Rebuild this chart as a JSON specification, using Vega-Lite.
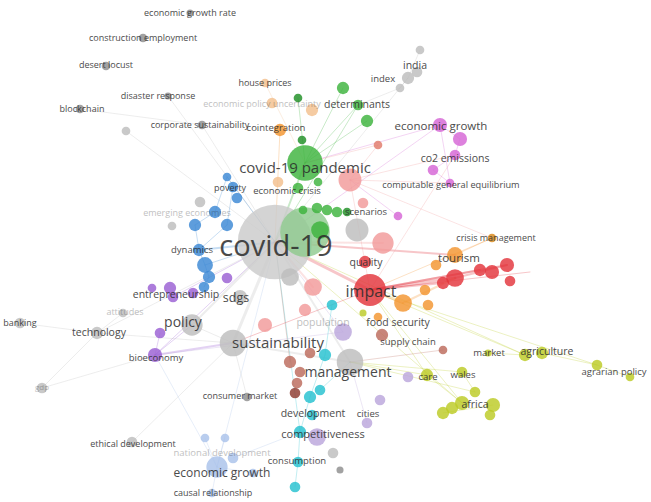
{
  "$schema": "https://vega.github.io/schema/vega-lite/v6.json",
  "width": 651,
  "height": 502,
  "padding": 0,
  "autosize": {"type": "none"},
  "background": "white",
  "config": {"view": {"stroke": null}},
  "datasets": {
    "links": [
      {"x": 275, "y": 242, "x2": 305, "y2": 163, "cl": "green", "w": 2},
      {"x": 275, "y": 242, "x2": 370, "y2": 290, "cl": "red", "w": 3},
      {"x": 275, "y": 242, "x2": 233, "y2": 343, "cl": "grey", "w": 3},
      {"x": 275, "y": 242, "x2": 350, "y2": 362, "cl": "grey", "w": 2},
      {"x": 275, "y": 242, "x2": 192, "y2": 325, "cl": "grey", "w": 2},
      {"x": 275, "y": 242, "x2": 202, "y2": 125, "cl": "grey", "w": 1},
      {"x": 275, "y": 242, "x2": 440, "y2": 125, "cl": "magenta", "w": 1},
      {"x": 275, "y": 242, "x2": 455, "y2": 255, "cl": "red", "w": 2},
      {"x": 275, "y": 242, "x2": 462, "y2": 403, "cl": "olive", "w": 1},
      {"x": 275, "y": 242, "x2": 300, "y2": 432, "cl": "cyan", "w": 1},
      {"x": 275, "y": 242, "x2": 217, "y2": 467, "cl": "lblue", "w": 1},
      {"x": 275, "y": 242, "x2": 168, "y2": 96, "cl": "grey", "w": 1},
      {"x": 275, "y": 242, "x2": 97, "y2": 333, "cl": "grey", "w": 1},
      {"x": 275, "y": 242, "x2": 155, "y2": 355, "cl": "purple", "w": 1},
      {"x": 275, "y": 242, "x2": 280, "y2": 130, "cl": "orange", "w": 1},
      {"x": 275, "y": 242, "x2": 525, "y2": 355, "cl": "olive", "w": 1},
      {"x": 275, "y": 242, "x2": 408, "y2": 78, "cl": "grey", "w": 1},
      {"x": 275, "y": 242, "x2": 358, "y2": 105, "cl": "green", "w": 1},
      {"x": 275, "y": 242, "x2": 126, "y2": 131, "cl": "grey", "w": 1},
      {"x": 275, "y": 242, "x2": 227, "y2": 177, "cl": "blue", "w": 1},
      {"x": 275, "y": 242, "x2": 199, "y2": 250, "cl": "blue", "w": 2},
      {"x": 275, "y": 242, "x2": 205, "y2": 265, "cl": "blue", "w": 1},
      {"x": 275, "y": 242, "x2": 173, "y2": 297, "cl": "purple", "w": 1},
      {"x": 275, "y": 242, "x2": 383, "y2": 243, "cl": "pink", "w": 2},
      {"x": 275, "y": 242, "x2": 313, "y2": 287, "cl": "pink", "w": 2},
      {"x": 275, "y": 242, "x2": 343, "y2": 332, "cl": "lpurple", "w": 1},
      {"x": 275, "y": 242, "x2": 290, "y2": 362, "cl": "brown", "w": 1},
      {"x": 370, "y": 290, "x2": 455, "y2": 278, "cl": "red", "w": 3},
      {"x": 370, "y": 290, "x2": 480, "y2": 270, "cl": "red", "w": 2},
      {"x": 370, "y": 290, "x2": 507, "y2": 265, "cl": "red", "w": 2},
      {"x": 370, "y": 290, "x2": 443, "y2": 283, "cl": "red", "w": 2},
      {"x": 370, "y": 290, "x2": 492, "y2": 238, "cl": "orange", "w": 1},
      {"x": 370, "y": 290, "x2": 525, "y2": 355, "cl": "olive", "w": 1},
      {"x": 370, "y": 290, "x2": 597, "y2": 365, "cl": "olive", "w": 1},
      {"x": 370, "y": 290, "x2": 462, "y2": 403, "cl": "olive", "w": 1},
      {"x": 370, "y": 290, "x2": 427, "y2": 375, "cl": "olive", "w": 1},
      {"x": 370, "y": 290, "x2": 403, "y2": 303, "cl": "orange", "w": 2},
      {"x": 370, "y": 290, "x2": 350, "y2": 180, "cl": "pink", "w": 1},
      {"x": 370, "y": 290, "x2": 455, "y2": 155, "cl": "pink", "w": 1},
      {"x": 370, "y": 290, "x2": 530, "y2": 272, "cl": "red", "w": 1},
      {"x": 370, "y": 290, "x2": 233, "y2": 343, "cl": "red", "w": 1},
      {"x": 305, "y": 163, "x2": 358, "y2": 105, "cl": "green", "w": 1},
      {"x": 305, "y": 163, "x2": 343, "y2": 88, "cl": "green", "w": 1},
      {"x": 305, "y": 163, "x2": 298, "y2": 98, "cl": "green", "w": 1},
      {"x": 305, "y": 163, "x2": 367, "y2": 121, "cl": "green", "w": 1},
      {"x": 305, "y": 163, "x2": 440, "y2": 125, "cl": "magenta", "w": 1},
      {"x": 305, "y": 163, "x2": 265, "y2": 83, "cl": "lorange", "w": 1},
      {"x": 305, "y": 163, "x2": 378, "y2": 145, "cl": "pink", "w": 1},
      {"x": 350, "y": 180, "x2": 378, "y2": 145, "cl": "pink", "w": 1},
      {"x": 350, "y": 180, "x2": 455, "y2": 155, "cl": "pink", "w": 1},
      {"x": 350, "y": 180, "x2": 450, "y2": 183, "cl": "pink", "w": 1},
      {"x": 350, "y": 180, "x2": 398, "y2": 216, "cl": "magenta", "w": 1},
      {"x": 350, "y": 180, "x2": 492, "y2": 238, "cl": "pink", "w": 1},
      {"x": 440, "y": 125, "x2": 460, "y2": 139, "cl": "magenta", "w": 1},
      {"x": 460, "y": 139, "x2": 455, "y2": 155, "cl": "magenta", "w": 1},
      {"x": 455, "y": 155, "x2": 433, "y2": 170, "cl": "magenta", "w": 1},
      {"x": 433, "y": 170, "x2": 450, "y2": 183, "cl": "magenta", "w": 1},
      {"x": 440, "y": 125, "x2": 450, "y2": 183, "cl": "magenta", "w": 1},
      {"x": 233, "y": 343, "x2": 155, "y2": 355, "cl": "purple", "w": 2},
      {"x": 233, "y": 343, "x2": 97, "y2": 333, "cl": "grey", "w": 1},
      {"x": 233, "y": 343, "x2": 247, "y2": 397, "cl": "grey", "w": 1},
      {"x": 233, "y": 343, "x2": 132, "y2": 442, "cl": "grey", "w": 1},
      {"x": 233, "y": 343, "x2": 350, "y2": 362, "cl": "grey", "w": 2},
      {"x": 233, "y": 343, "x2": 192, "y2": 325, "cl": "grey", "w": 1},
      {"x": 97, "y": 333, "x2": 20, "y2": 323, "cl": "grey", "w": 1},
      {"x": 97, "y": 333, "x2": 42, "y2": 388, "cl": "grey", "w": 1},
      {"x": 97, "y": 333, "x2": 123, "y2": 313, "cl": "grey", "w": 1},
      {"x": 42, "y": 388, "x2": 155, "y2": 355, "cl": "grey", "w": 1},
      {"x": 80, "y": 109, "x2": 202, "y2": 125, "cl": "grey", "w": 1},
      {"x": 155, "y": 355, "x2": 192, "y2": 325, "cl": "purple", "w": 1},
      {"x": 155, "y": 355, "x2": 160, "y2": 333, "cl": "purple", "w": 1},
      {"x": 155, "y": 355, "x2": 343, "y2": 332, "cl": "lpurple", "w": 1},
      {"x": 155, "y": 355, "x2": 217, "y2": 467, "cl": "lblue", "w": 1},
      {"x": 350, "y": 362, "x2": 427, "y2": 375, "cl": "olive", "w": 1},
      {"x": 350, "y": 362, "x2": 462, "y2": 372, "cl": "olive", "w": 1},
      {"x": 350, "y": 362, "x2": 443, "y2": 350, "cl": "brown", "w": 1},
      {"x": 350, "y": 362, "x2": 367, "y2": 423, "cl": "lpurple", "w": 1},
      {"x": 350, "y": 362, "x2": 320, "y2": 390, "cl": "cyan", "w": 1},
      {"x": 350, "y": 362, "x2": 475, "y2": 392, "cl": "olive", "w": 1},
      {"x": 332, "y": 305, "x2": 325, "y2": 355, "cl": "cyan", "w": 1},
      {"x": 325, "y": 355, "x2": 310, "y2": 397, "cl": "cyan", "w": 1},
      {"x": 310, "y": 397, "x2": 300, "y2": 432, "cl": "cyan", "w": 1},
      {"x": 300, "y": 432, "x2": 298, "y2": 462, "cl": "cyan", "w": 1},
      {"x": 298, "y": 462, "x2": 295, "y2": 487, "cl": "cyan", "w": 1},
      {"x": 455, "y": 255, "x2": 492, "y2": 238, "cl": "orange", "w": 1},
      {"x": 455, "y": 278, "x2": 507, "y2": 265, "cl": "red", "w": 2},
      {"x": 403, "y": 303, "x2": 455, "y2": 278, "cl": "orange", "w": 2},
      {"x": 488, "y": 353, "x2": 525, "y2": 355, "cl": "olive", "w": 1},
      {"x": 542, "y": 353, "x2": 597, "y2": 365, "cl": "olive", "w": 1},
      {"x": 597, "y": 365, "x2": 630, "y2": 377, "cl": "olive", "w": 1},
      {"x": 427, "y": 375, "x2": 462, "y2": 403, "cl": "olive", "w": 1},
      {"x": 462, "y": 372, "x2": 475, "y2": 392, "cl": "olive", "w": 1},
      {"x": 443, "y": 413, "x2": 493, "y2": 405, "cl": "olive", "w": 1},
      {"x": 227, "y": 177, "x2": 215, "y2": 212, "cl": "blue", "w": 1},
      {"x": 233, "y": 187, "x2": 227, "y2": 225, "cl": "blue", "w": 1},
      {"x": 215, "y": 212, "x2": 195, "y2": 225, "cl": "blue", "w": 1},
      {"x": 195, "y": 225, "x2": 199, "y2": 250, "cl": "blue", "w": 1},
      {"x": 199, "y": 250, "x2": 205, "y2": 265, "cl": "blue", "w": 1},
      {"x": 205, "y": 265, "x2": 209, "y2": 277, "cl": "blue", "w": 1},
      {"x": 209, "y": 277, "x2": 204, "y2": 287, "cl": "blue", "w": 1},
      {"x": 227, "y": 225, "x2": 199, "y2": 250, "cl": "blue", "w": 1},
      {"x": 420, "y": 50, "x2": 408, "y2": 78, "cl": "grey", "w": 1},
      {"x": 408, "y": 78, "x2": 400, "y2": 88, "cl": "grey", "w": 1},
      {"x": 400, "y": 88, "x2": 358, "y2": 105, "cl": "grey", "w": 1},
      {"x": 205, "y": 438, "x2": 217, "y2": 467, "cl": "lblue", "w": 1},
      {"x": 225, "y": 438, "x2": 217, "y2": 467, "cl": "lblue", "w": 1},
      {"x": 217, "y": 467, "x2": 212, "y2": 493, "cl": "lblue", "w": 1},
      {"x": 217, "y": 467, "x2": 253, "y2": 473, "cl": "lblue", "w": 1},
      {"x": 233, "y": 458, "x2": 300, "y2": 432, "cl": "lblue", "w": 1}
    ],
    "nodes": [
      {"x": 275, "y": 242, "occ": 441, "cl": "lgrey"},
      {"x": 305, "y": 232, "occ": 196, "cl": "lgreen"},
      {"x": 305, "y": 163, "occ": 100, "cl": "green"},
      {"x": 370, "y": 290, "occ": 81, "cl": "red"},
      {"x": 233, "y": 343, "occ": 56, "cl": "grey"},
      {"x": 350, "y": 362, "occ": 56, "cl": "grey"},
      {"x": 357, "y": 230, "occ": 42, "cl": "grey"},
      {"x": 350, "y": 180, "occ": 42, "cl": "pink"},
      {"x": 383, "y": 243, "occ": 36, "cl": "pink"},
      {"x": 192, "y": 325, "occ": 36, "cl": "grey"},
      {"x": 217, "y": 467, "occ": 36, "cl": "lblue"},
      {"x": 290, "y": 277, "occ": 25, "cl": "grey"},
      {"x": 313, "y": 287, "occ": 25, "cl": "pink"},
      {"x": 320, "y": 230, "occ": 25, "cl": "green"},
      {"x": 343, "y": 332, "occ": 25, "cl": "lpurple"},
      {"x": 317, "y": 437, "occ": 25, "cl": "lpurple"},
      {"x": 403, "y": 303, "occ": 25, "cl": "orange"},
      {"x": 455, "y": 278, "occ": 25, "cl": "red"},
      {"x": 240, "y": 297, "occ": 16, "cl": "grey"},
      {"x": 305, "y": 310, "occ": 12, "cl": "pink"},
      {"x": 265, "y": 325, "occ": 16, "cl": "pink"},
      {"x": 190, "y": 13, "occ": 4, "cl": "dgrey"},
      {"x": 143, "y": 38, "occ": 6, "cl": "dgrey"},
      {"x": 106, "y": 66, "occ": 6, "cl": "dgrey"},
      {"x": 168, "y": 96, "occ": 4, "cl": "dgrey"},
      {"x": 80, "y": 109, "occ": 6, "cl": "dgrey"},
      {"x": 126, "y": 131, "occ": 6, "cl": "grey"},
      {"x": 202, "y": 125, "occ": 6, "cl": "dgrey"},
      {"x": 265, "y": 83, "occ": 6, "cl": "lorange"},
      {"x": 272, "y": 103, "occ": 9, "cl": "lorange"},
      {"x": 312, "y": 110, "occ": 12, "cl": "lorange"},
      {"x": 280, "y": 130, "occ": 12, "cl": "orange"},
      {"x": 278, "y": 182, "occ": 9, "cl": "lorange"},
      {"x": 298, "y": 98, "occ": 6, "cl": "dgreen"},
      {"x": 343, "y": 88, "occ": 12, "cl": "green"},
      {"x": 358, "y": 105, "occ": 9, "cl": "green"},
      {"x": 367, "y": 121, "occ": 12, "cl": "green"},
      {"x": 302, "y": 140, "occ": 6, "cl": "dgreen"},
      {"x": 298, "y": 188, "occ": 9, "cl": "green"},
      {"x": 318, "y": 182, "occ": 6, "cl": "green"},
      {"x": 303, "y": 210, "occ": 6, "cl": "green"},
      {"x": 317, "y": 208, "occ": 9, "cl": "green"},
      {"x": 327, "y": 210, "occ": 9, "cl": "green"},
      {"x": 337, "y": 212, "occ": 9, "cl": "green"},
      {"x": 347, "y": 212, "occ": 6, "cl": "dgreen"},
      {"x": 363, "y": 203, "occ": 9, "cl": "pink"},
      {"x": 378, "y": 145, "occ": 6, "cl": "salmon"},
      {"x": 420, "y": 50, "occ": 6, "cl": "grey"},
      {"x": 417, "y": 72, "occ": 9, "cl": "grey"},
      {"x": 408, "y": 78, "occ": 12, "cl": "grey"},
      {"x": 400, "y": 88, "occ": 6, "cl": "grey"},
      {"x": 200, "y": 202, "occ": 9, "cl": "grey"},
      {"x": 172, "y": 226, "occ": 6, "cl": "grey"},
      {"x": 123, "y": 313, "occ": 6, "cl": "grey"},
      {"x": 20, "y": 323, "occ": 9, "cl": "grey"},
      {"x": 97, "y": 333, "occ": 12, "cl": "grey"},
      {"x": 42, "y": 388, "occ": 9, "cl": "grey"},
      {"x": 247, "y": 397, "occ": 6, "cl": "dgrey"},
      {"x": 132, "y": 442, "occ": 9, "cl": "grey"},
      {"x": 333, "y": 453, "occ": 9, "cl": "grey"},
      {"x": 340, "y": 470, "occ": 4, "cl": "dgrey"},
      {"x": 365, "y": 262, "occ": 12, "cl": "red"},
      {"x": 480, "y": 270, "occ": 12, "cl": "red"},
      {"x": 492, "y": 272, "occ": 16, "cl": "red"},
      {"x": 507, "y": 265, "occ": 16, "cl": "red"},
      {"x": 510, "y": 281, "occ": 9, "cl": "red"},
      {"x": 443, "y": 283, "occ": 12, "cl": "red"},
      {"x": 455, "y": 255, "occ": 20, "cl": "orange"},
      {"x": 492, "y": 238, "occ": 6, "cl": "dorange"},
      {"x": 436, "y": 265, "occ": 9, "cl": "orange"},
      {"x": 425, "y": 290, "occ": 9, "cl": "orange"},
      {"x": 428, "y": 305, "occ": 9, "cl": "orange"},
      {"x": 378, "y": 317, "occ": 6, "cl": "orange"},
      {"x": 440, "y": 125, "occ": 16, "cl": "magenta"},
      {"x": 460, "y": 139, "occ": 16, "cl": "magenta"},
      {"x": 455, "y": 155, "occ": 9, "cl": "magenta"},
      {"x": 433, "y": 170, "occ": 9, "cl": "magenta"},
      {"x": 450, "y": 183, "occ": 6, "cl": "magenta"},
      {"x": 398, "y": 216, "occ": 6, "cl": "magenta"},
      {"x": 227, "y": 177, "occ": 6, "cl": "blue"},
      {"x": 233, "y": 187, "occ": 9, "cl": "blue"},
      {"x": 237, "y": 198, "occ": 9, "cl": "blue"},
      {"x": 215, "y": 212, "occ": 12, "cl": "blue"},
      {"x": 195, "y": 225, "occ": 12, "cl": "blue"},
      {"x": 227, "y": 225, "occ": 12, "cl": "blue"},
      {"x": 199, "y": 250, "occ": 12, "cl": "blue"},
      {"x": 205, "y": 265, "occ": 20, "cl": "blue"},
      {"x": 209, "y": 277, "occ": 12, "cl": "blue"},
      {"x": 204, "y": 287, "occ": 9, "cl": "blue"},
      {"x": 227, "y": 278, "occ": 9, "cl": "purple"},
      {"x": 152, "y": 288, "occ": 6, "cl": "purple"},
      {"x": 170, "y": 288, "occ": 12, "cl": "purple"},
      {"x": 173, "y": 297, "occ": 9, "cl": "purple"},
      {"x": 193, "y": 293, "occ": 9, "cl": "purple"},
      {"x": 160, "y": 333, "occ": 9, "cl": "purple"},
      {"x": 155, "y": 355, "occ": 16, "cl": "purple"},
      {"x": 408, "y": 377, "occ": 9, "cl": "lpurple"},
      {"x": 380, "y": 400, "occ": 9, "cl": "lpurple"},
      {"x": 367, "y": 423, "occ": 9, "cl": "lpurple"},
      {"x": 332, "y": 305, "occ": 9, "cl": "cyan"},
      {"x": 325, "y": 355, "occ": 12, "cl": "cyan"},
      {"x": 320, "y": 390, "occ": 9, "cl": "cyan"},
      {"x": 310, "y": 397, "occ": 12, "cl": "cyan"},
      {"x": 312, "y": 415, "occ": 9, "cl": "cyan"},
      {"x": 300, "y": 432, "occ": 12, "cl": "cyan"},
      {"x": 298, "y": 462, "occ": 9, "cl": "cyan"},
      {"x": 295, "y": 487, "occ": 9, "cl": "cyan"},
      {"x": 310, "y": 353, "occ": 9, "cl": "brown"},
      {"x": 290, "y": 362, "occ": 12, "cl": "brown"},
      {"x": 300, "y": 372, "occ": 9, "cl": "brown"},
      {"x": 297, "y": 383, "occ": 9, "cl": "brown"},
      {"x": 295, "y": 393, "occ": 9, "cl": "dbrown"},
      {"x": 382, "y": 335, "occ": 12, "cl": "brown"},
      {"x": 443, "y": 350, "occ": 6, "cl": "brown"},
      {"x": 363, "y": 313, "occ": 4, "cl": "olive"},
      {"x": 427, "y": 375, "occ": 12, "cl": "olive"},
      {"x": 462, "y": 372, "occ": 9, "cl": "olive"},
      {"x": 475, "y": 392, "occ": 9, "cl": "olive"},
      {"x": 462, "y": 403, "occ": 16, "cl": "olive"},
      {"x": 452, "y": 408, "occ": 12, "cl": "olive"},
      {"x": 443, "y": 413, "occ": 12, "cl": "olive"},
      {"x": 493, "y": 405, "occ": 16, "cl": "olive"},
      {"x": 490, "y": 415, "occ": 9, "cl": "olive"},
      {"x": 488, "y": 353, "occ": 4, "cl": "olive"},
      {"x": 525, "y": 355, "occ": 12, "cl": "olive"},
      {"x": 542, "y": 353, "occ": 12, "cl": "olive"},
      {"x": 597, "y": 365, "occ": 9, "cl": "olive"},
      {"x": 630, "y": 377, "occ": 6, "cl": "olive"},
      {"x": 205, "y": 438, "occ": 6, "cl": "lblue"},
      {"x": 225, "y": 438, "occ": 6, "cl": "lblue"},
      {"x": 233, "y": 458, "occ": 9, "cl": "lblue"},
      {"x": 253, "y": 473, "occ": 6, "cl": "lblue"},
      {"x": 212, "y": 493, "occ": 6, "cl": "lblue"}
    ],
    "labels": [
      {"t": "economic growth rate", "x": 190, "y": 13, "lw": 9, "dim": "n"},
      {"t": "construction employment", "x": 143, "y": 38, "lw": 9, "dim": "n"},
      {"t": "desert locust", "x": 106, "y": 65, "lw": 9, "dim": "n"},
      {"t": "disaster response", "x": 158, "y": 96, "lw": 9, "dim": "n"},
      {"t": "blockchain", "x": 82, "y": 109, "lw": 9, "dim": "n"},
      {"t": "corporate sustainability", "x": 200, "y": 125, "lw": 9, "dim": "n"},
      {"t": "house prices", "x": 265, "y": 83, "lw": 9, "dim": "n"},
      {"t": "economic policy uncertainty", "x": 262, "y": 104, "lw": 9, "dim": "y"},
      {"t": "cointegration", "x": 276, "y": 128, "lw": 9.5, "dim": "n"},
      {"t": "determinants", "x": 357, "y": 105, "lw": 10.5, "dim": "n"},
      {"t": "covid-19 pandemic", "x": 305, "y": 168, "lw": 15, "dim": "n"},
      {"t": "economic crisis", "x": 287, "y": 191, "lw": 9.5, "dim": "n"},
      {"t": "scenarios", "x": 366, "y": 212, "lw": 9.5, "dim": "n"},
      {"t": "covid-19", "x": 276, "y": 247, "lw": 29, "dim": "n"},
      {"t": "poverty", "x": 230, "y": 188, "lw": 9, "dim": "n"},
      {"t": "emerging economies", "x": 187, "y": 213, "lw": 9, "dim": "y"},
      {"t": "dynamics", "x": 192, "y": 250, "lw": 9.5, "dim": "n"},
      {"t": "entrepreneurship", "x": 176, "y": 295, "lw": 10.5, "dim": "n"},
      {"t": "sdgs", "x": 236, "y": 298, "lw": 12.5, "dim": "n"},
      {"t": "policy", "x": 183, "y": 323, "lw": 14, "dim": "n"},
      {"t": "attitudes", "x": 125, "y": 312, "lw": 9, "dim": "y"},
      {"t": "banking", "x": 20, "y": 323, "lw": 9, "dim": "n"},
      {"t": "technology", "x": 99, "y": 333, "lw": 10.5, "dim": "n"},
      {"t": "bioeconomy", "x": 156, "y": 358, "lw": 9.5, "dim": "n"},
      {"t": "gdp", "x": 42, "y": 388, "lw": 8, "dim": "y"},
      {"t": "sustainability", "x": 278, "y": 343, "lw": 15, "dim": "n"},
      {"t": "population", "x": 323, "y": 323, "lw": 10.5, "dim": "y"},
      {"t": "management", "x": 348, "y": 373, "lw": 14, "dim": "n"},
      {"t": "consumer market", "x": 240, "y": 396, "lw": 9, "dim": "n"},
      {"t": "ethical development", "x": 133, "y": 444, "lw": 9, "dim": "n"},
      {"t": "national development", "x": 222, "y": 453, "lw": 9.5, "dim": "y"},
      {"t": "economic growth", "x": 222, "y": 473, "lw": 12, "dim": "n"},
      {"t": "causal relationship", "x": 213, "y": 493, "lw": 9, "dim": "n"},
      {"t": "development", "x": 313, "y": 414, "lw": 10.5, "dim": "n"},
      {"t": "cities", "x": 368, "y": 414, "lw": 9.5, "dim": "n"},
      {"t": "competitiveness", "x": 323, "y": 435, "lw": 11, "dim": "n"},
      {"t": "consumption", "x": 297, "y": 461, "lw": 9.5, "dim": "n"},
      {"t": "quality", "x": 366, "y": 263, "lw": 10.5, "dim": "n"},
      {"t": "impact", "x": 371, "y": 292, "lw": 16, "dim": "n"},
      {"t": "tourism", "x": 459, "y": 259, "lw": 11.5, "dim": "n"},
      {"t": "crisis management", "x": 496, "y": 238, "lw": 9, "dim": "n"},
      {"t": "economic growth", "x": 441, "y": 127, "lw": 11.5, "dim": "n"},
      {"t": "co2 emissions", "x": 455, "y": 159, "lw": 10.5, "dim": "n"},
      {"t": "computable general equilibrium", "x": 451, "y": 185, "lw": 9.2, "dim": "n"},
      {"t": "india", "x": 415, "y": 66, "lw": 10.5, "dim": "n"},
      {"t": "index", "x": 383, "y": 79, "lw": 9.5, "dim": "n"},
      {"t": "food security", "x": 398, "y": 323, "lw": 10.5, "dim": "n"},
      {"t": "supply chain", "x": 408, "y": 342, "lw": 9.5, "dim": "n"},
      {"t": "market", "x": 489, "y": 353, "lw": 9.5, "dim": "n"},
      {"t": "agriculture", "x": 547, "y": 352, "lw": 10.5, "dim": "n"},
      {"t": "agrarian policy", "x": 614, "y": 372, "lw": 9.5, "dim": "n"},
      {"t": "care", "x": 428, "y": 377, "lw": 9.5, "dim": "n"},
      {"t": "wales", "x": 463, "y": 375, "lw": 9.5, "dim": "n"},
      {"t": "africa", "x": 475, "y": 405, "lw": 10.5, "dim": "n"}
    ]
  },
  "resolve": {"scale": {"size": "independent", "opacity": "independent"}},
  "encoding": {
    "x": {"field": "x", "type": "quantitative", "scale": {"domain": [0, 651], "nice": false, "zero": false}, "axis": null},
    "y": {"field": "y", "type": "quantitative", "scale": {"domain": [0, 502], "nice": false, "zero": false, "reverse": true}, "axis": null}
  },
  "layer": [
    {
      "data": {"name": "links"},
      "mark": {"type": "rule", "opacity": 0.28, "strokeCap": "round"},
      "encoding": {
        "x2": {"field": "x2"},
        "y2": {"field": "y2"},
        "color": {
          "field": "cl", "type": "nominal", "legend": null,
          "scale": {
            "domain": ["grey", "lgrey", "dgrey", "green", "lgreen", "dgreen", "red", "pink", "salmon", "blue", "purple", "lpurple", "orange", "dorange", "lorange", "magenta", "olive", "cyan", "brown", "dbrown", "lblue"],
            "range": ["#bdbdbd", "#cbcbcb", "#8e8e8e", "#3db33d", "#8fcb8f", "#1e8f24", "#e3343c", "#f29a9a", "#e07a6a", "#3a88d4", "#9a5fd3", "#bba6dc", "#f39530", "#d9891a", "#f3c08e", "#d565d5", "#bccb25", "#25c1cf", "#bc6a5c", "#8e3a30", "#a9c2ea"]
          }
        },
        "strokeWidth": {"field": "w", "type": "quantitative", "legend": null, "scale": {"domain": [1, 3], "range": [1, 3]}}
      }
    },
    {
      "data": {"name": "nodes"},
      "mark": {"type": "circle", "opacity": 0.82},
      "encoding": {
        "size": {"field": "occ", "type": "quantitative", "legend": null, "scale": {"type": "linear", "domain": [0, 441], "range": [0, 5542], "zero": true}},
        "color": {"field": "cl", "type": "nominal", "legend": null}
      }
    },
    {
      "data": {"name": "labels"},
      "mark": {"type": "text", "font": "Open Sans", "align": "center", "baseline": "middle", "color": "#2b2b2b"},
      "encoding": {
        "text": {"field": "t"},
        "size": {"field": "lw", "type": "quantitative", "legend": null, "scale": {"type": "linear", "domain": [0, 29], "range": [0, 29], "zero": true}},
        "opacity": {"field": "dim", "type": "nominal", "legend": null, "scale": {"domain": ["n", "y"], "range": [0.85, 0.3]}}
      }
    }
  ]
}
